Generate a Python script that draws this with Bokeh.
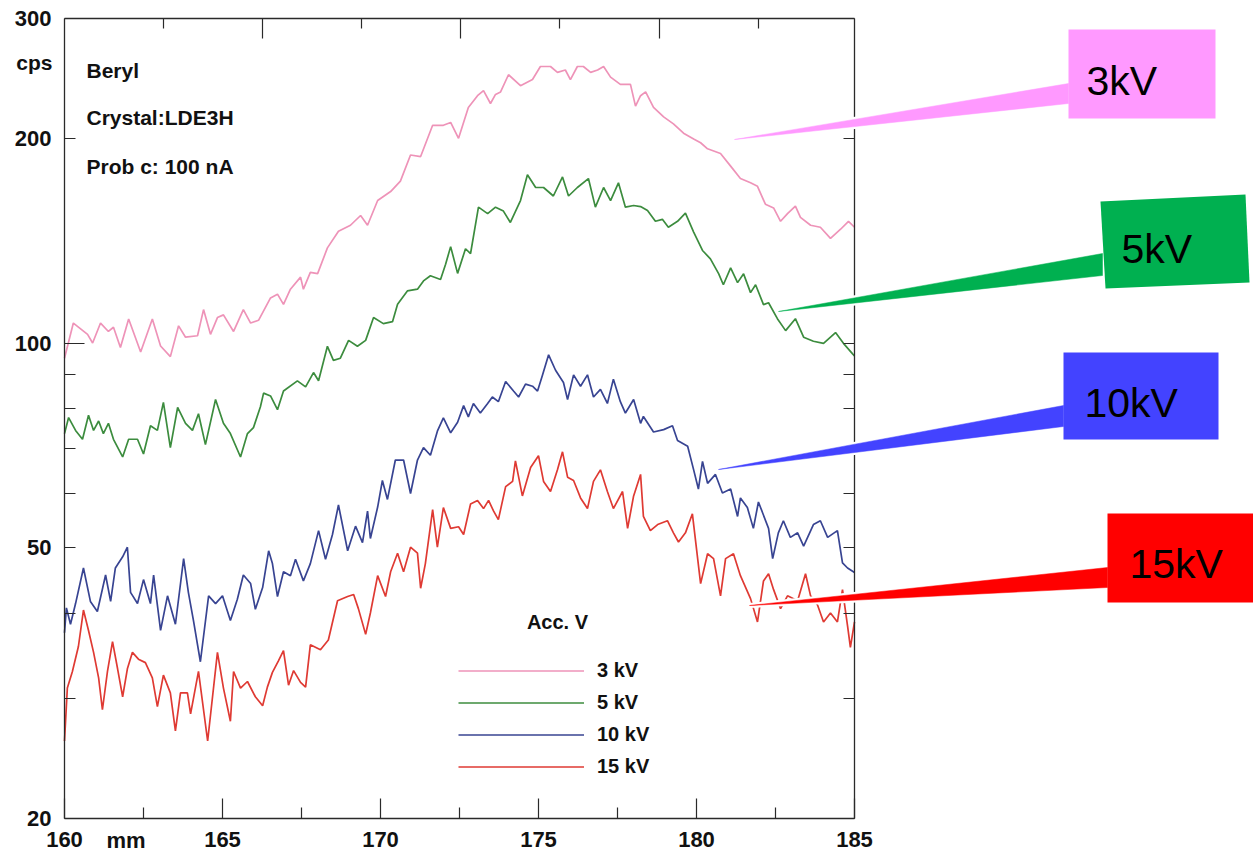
import math
from bokeh.plotting import figure
from bokeh.models import (Range1d, LinearAxis, LogAxis, FixedTicker, Legend, LegendItem,
                          BasicTickFormatter)
from bokeh.core.properties import value
from bokeh.embed import file_html
from bokeh.resources import INLINE

# ---------------- data ----------------
kv3_x = [160.00, 160.28, 160.73, 160.89, 161.14, 161.39, 161.55, 161.77, 162.03, 162.41, 162.78, 163.04,
         163.35, 163.61, 163.83, 164.21, 164.40, 164.62, 164.84, 165.03, 165.35, 165.66, 165.89, 166.14,
         166.52, 166.74, 166.93, 167.15, 167.47, 167.56, 167.78, 168.01, 168.32, 168.67, 169.05, 169.37,
         169.59, 169.91, 170.32, 170.63, 170.95, 171.27, 171.65, 171.99,
         172.22, 172.47, 172.78, 173.07, 173.26, 173.48, 173.64, 173.80, 174.05, 174.43, 174.81, 175.06,
         175.38, 175.60, 175.85, 176.01, 176.23, 176.42, 176.65, 176.87, 177.06, 177.28, 177.59, 177.91,
         178.07, 178.23,
         178.39, 178.64, 178.96, 179.27, 179.59, 179.91, 180.13, 180.35, 180.76, 181.08, 181.39, 181.71,
         181.93, 182.18, 182.44, 182.66, 182.88, 183.13, 183.29, 183.61, 183.92, 184.24, 184.56, 184.81, 185.00]
kv3_y = [95, 107, 103, 100, 107, 104, 105.5, 98.5, 108.5, 97, 108.5, 99,
         95.5, 106, 102, 102.5, 112, 103, 109, 110, 104, 112, 107, 108,
         116.5, 118, 114, 120, 125, 120, 127, 126.5, 138, 146, 149, 154,
         149, 162, 167, 173, 189, 188, 209, 209,
         211, 200, 222, 231, 235, 225, 232, 234, 248, 239, 244, 255,
         255, 250, 252, 244, 255, 255, 250, 252, 255, 246, 240, 240,
         223, 231,
         234, 222, 215, 210, 203.5, 199.5, 197, 193, 190, 182, 174.5, 172,
         170, 160, 158, 151, 155, 159, 153, 149, 148, 142.5, 147, 151, 148]

kv5_x = [160.00, 160.13, 160.35, 160.57, 160.76, 160.92, 161.08, 161.23, 161.39, 161.55, 161.84, 162.03,
         162.31, 162.50, 162.72, 162.94, 163.13, 163.35, 163.58, 163.83, 164.05, 164.24, 164.46, 164.78,
         165.03, 165.25, 165.57, 165.79, 165.98, 166.20,
         166.30, 166.52, 166.74, 166.93, 167.37, 167.63, 167.88, 168.04, 168.32, 168.51, 168.73, 168.99,
         169.27, 169.53, 169.78, 170.09, 170.38, 170.54, 170.85, 171.17, 171.36, 171.58, 171.90, 172.06,
         172.22, 172.44, 172.69, 172.85, 173.10, 173.39, 173.64, 173.89, 174.11, 174.43, 174.65, 174.91,
         175.16, 175.47, 175.76, 175.95, 176.23, 176.58, 176.80, 177.06, 177.28, 177.53, 177.75, 178.01,
         178.23, 178.45, 178.70, 178.92, 179.11, 179.40, 179.65, 179.91, 180.19, 180.44, 180.70, 180.85,
         181.08, 181.30, 181.49, 181.71, 181.87, 182.12, 182.28, 182.56, 182.82, 183.13, 183.39, 183.70,
         184.02, 184.40, 184.65, 184.94, 185.00]
kv5_y = [73.6, 77.7, 74.4, 72.2, 78.3, 74.4, 76.8, 73.6, 76.2, 72.2, 68, 72.2,
         72.2, 68.7, 75.6, 74.4, 81.8, 70.2, 80.4, 76.2, 74.4, 78.7, 70.9, 82.6,
         76.2, 73.6, 68, 73.6, 75.1, 80.6,
         84.4, 83.6, 79.8, 85, 88, 86.2, 90.5, 88, 98.9, 94.3, 95, 100.9,
         98.9, 100.9, 109, 106.8, 107.5, 114, 119.3, 120, 123.4, 125.6, 124, 130.6,
         138.6, 126.6, 137.6, 135.4, 158.4, 155, 158.4, 156.3, 150.4, 162, 176.8, 169.3,
         169.3, 164.5, 175.5, 164.5, 169.3, 174.5, 158.4, 169.3, 162, 172, 158.4, 159.3,
         158.7, 156.6, 151, 152, 148, 151, 155.2, 145.6, 136.8, 133, 126.5, 121.8,
         129, 122.7, 126.4, 118.6, 121.8, 113.9, 114.6, 108.6, 104.3, 108.6, 102, 100.6,
         99.9, 103.6, 99.9, 96.4, 95.7]

kv10_x = [160.00, 160.06, 160.19, 160.35, 160.60, 160.82, 161.04, 161.30, 161.46, 161.61, 161.84, 161.99,
          162.09, 162.31, 162.50, 162.72, 162.82, 163.04, 163.26, 163.51, 163.77, 163.92, 164.08, 164.30,
          164.56, 164.78, 165.00, 165.25, 165.47, 165.66,
          165.89, 166.04, 166.27, 166.46, 166.58, 166.74, 166.93, 167.15, 167.31, 167.56, 167.78, 168.04,
          168.26, 168.48, 168.67, 168.96, 169.21, 169.43, 169.59, 169.68, 169.91, 170.06, 170.22, 170.47,
          170.73, 170.95, 171.17, 171.36, 171.58, 171.80, 171.99,
          172.22, 172.44, 172.63, 172.78, 172.94, 173.16, 173.39, 173.54, 173.73, 173.96, 174.21, 174.37,
          174.59, 174.81, 174.97, 175.13, 175.32, 175.54, 175.79, 175.92, 176.11, 176.33, 176.55, 176.74,
          176.96, 177.18, 177.37, 177.59, 177.75, 178.01,
          178.23, 178.32, 178.64, 178.96, 179.24, 179.40, 179.72, 179.91, 180.06, 180.19, 180.35, 180.60,
          180.82, 181.08, 181.30, 181.39, 181.61, 181.80, 181.96, 182.28, 182.41, 182.59, 182.75, 182.97,
          183.20, 183.39, 183.70, 183.92, 184.15, 184.46, 184.62, 184.78, 185.00]
kv10_y = [37.5, 40.8, 38.6, 41.4, 46.7, 41.7, 40.3, 45.6, 41.7, 46.7, 48.5, 50.1,
          43, 41.4, 44.9, 41.4, 45.6, 37.8, 42.5, 38.6, 48.2, 43, 39.1, 34,
          42.5, 41.4, 42.5, 39.1, 42, 45.6,
          44.3, 40.6, 43.7, 49.5, 47.4, 42.4, 46.1, 45.5, 48.1, 44.7, 47.4, 53,
          48.1, 52.3, 57.8, 49.5, 53.8, 50.9, 56.6, 51.6, 57.4, 62.8, 58.9, 67.3,
          67.3, 60.1, 67.3, 70.2, 68.4, 74.2, 77.6,
          73.8, 76.5, 80.9, 77.9, 81.5, 78.9, 81.5, 83.3, 82, 87.8, 85, 83.3,
          87, 86.4, 85, 89.8, 96.1, 91.2, 87.5, 82.6, 89.8, 86.4, 89.8, 83.3,
          85.5, 81.5, 88.5, 82, 78.9, 82.6,
          76.2, 78, 74, 74.6, 75.6, 71.9, 70.5, 65.1, 61, 67, 62.2, 64.1,
          60.2, 61, 55.6, 59.2, 57.3, 53.4, 58.4, 53.4, 48.2, 52.6, 54.8, 51.8,
          52.6, 50.3, 54.1, 54.8, 51.8, 53, 47.5, 46.7, 46]

kv15_x = [160.00, 160.09, 160.25, 160.44, 160.60, 160.76, 160.92, 161.08, 161.20, 161.36, 161.52, 161.68,
          161.84, 161.99, 162.15, 162.34, 162.56, 162.78, 162.94, 163.13, 163.35, 163.51, 163.67, 163.89,
          163.99, 164.24, 164.53, 164.84, 165.03, 165.25, 165.35, 165.57, 165.79, 166.04,
          166.27, 166.42, 166.58, 166.77, 166.93, 167.09, 167.25, 167.47, 167.63, 167.78, 168.10, 168.35,
          168.64, 168.96, 169.15, 169.30, 169.53, 169.68, 169.91, 170.16, 170.32, 170.54, 170.73, 170.95,
          171.17, 171.27, 171.42, 171.65, 171.80, 171.99,
          172.22, 172.47, 172.63, 172.85, 173.07, 173.26, 173.42, 173.58, 173.73, 173.96, 174.18, 174.27,
          174.49, 174.75, 175.00, 175.16, 175.38, 175.60, 175.76, 175.92, 176.11, 176.33, 176.55, 176.74,
          176.96, 177.18, 177.37, 177.66, 177.82, 178.01, 178.23,
          178.32, 178.54, 178.77, 179.08, 179.27, 179.43, 179.65, 179.87, 180.13, 180.35, 180.54, 180.76,
          180.92, 181.17, 181.39, 181.71, 181.93, 182.12, 182.28, 182.44, 182.66, 182.88, 183.20, 183.45,
          183.61, 183.83, 184.02, 184.24, 184.46, 184.62, 184.78, 184.87, 185.00]
kv15_y = [26, 31.1, 32.9, 35.8, 40.5, 37.8, 35.1, 32.2, 28.9, 32.9, 36.4, 33.2,
          30.2, 33.2, 35.1, 34.3, 33.9, 32.2, 29.2, 32.5, 30.6, 26.9, 30.6, 30.6,
          28.5, 32.9, 26, 35.1, 31.1, 27.8, 32.9, 31.1, 31.8, 30.2,
          29.3, 31.2, 32.8, 34.1, 35.3, 31.4, 33, 31.7, 31.2, 36, 35.4, 36.6,
          41.8, 42.4, 42.7, 40.7, 37.3, 40.1, 45.5, 42.4, 46.1, 49.1, 46.1, 50.1,
          49.1, 43.6, 47.4, 56.9, 50.1, 57.3,
          53.4, 53.7, 52.3, 58, 58.7, 57.1, 58.7, 56.6, 55, 61.5, 62.6, 67.1,
          59.6, 65.6, 68.3, 62.6, 60.5, 65.1, 69.2, 63.5, 62.8, 59.2, 57.1, 62.6,
          65.1, 60.5, 57.1, 60.5, 53.4, 59.6, 64.1,
          55.6, 53, 54.1, 54.8, 52.6, 51, 52.6, 56.1, 44.3, 49, 48.2, 42.5,
          48.2, 49, 45.5, 42.1, 38.9, 44.7, 45.8, 43.4, 40.7, 42.5, 41.8, 45.8,
          42.5, 41.2, 38.9, 40.1, 38.9, 43.4, 38.4, 35.7, 38.9]

series_labels = ["3 kV", "5 kV", "10 kV", "15 kV"]
series_x = [kv3_x, kv5_x, kv10_x, kv15_x]
series_y = [kv3_y, kv5_y, kv10_y, kv15_y]
series_colors = ["#EE93B8", "#3C8C3E", "#384492", "#DF3A33"]

x_major = [160, 165, 170, 175, 180, 185]
x_minor = [162.5, 167.5, 172.5, 177.5, 182.5]
y_major = [20, 50, 100, 200, 300]
y_minor = [30, 40, 60, 70, 80, 90]

info_lines = ["Beryl", "Crystal:LDE3H", "Prob c: 100 nA"]
callout_texts = ["3kV", "5kV", "10kV", "15kV"]
callout_colors = ["#FF99FF", "#00B050", "#4343FF", "#FF0000"]

# ---------------- layout (pixels) ----------------
W, H = 1253, 853
FX0, FX1 = 64, 854      # pixel x of 160 and 185 mm
FY0, FY1 = 18, 818      # pixel y of 300 and 20 cps
XMIN, XMAX = 160, 185
YMIN, YMAX = 20, 300
SX = (FX1 - FX0) / (XMAX - XMIN)
LY = (FY1 - FY0) / (math.log10(YMAX) - math.log10(YMIN))


def X(px):
    return XMIN + (px - FX0) / SX


def Y(py):
    return 10 ** (math.log10(YMAX) - (py - FY0) / LY)


# top (secondary) axis: ticks every 99.2 px, first at x=162.6 px
def T(px):
    return 1 + (px - 162.6) / 99.2


p = figure(width=W, height=H, x_range=Range1d(X(0), X(W)), y_range=Range1d(Y(H), Y(0)),
           y_axis_type="log", x_axis_location=None, y_axis_location=None,
           toolbar_location=None, output_backend="svg",
           min_border=0, min_border_left=0, min_border_right=0, min_border_top=0, min_border_bottom=0)
p.outline_line_color = None
p.background_fill_color = "white"
p.border_fill_color = "white"
p.grid.visible = False
p.xgrid.grid_line_color = None
p.ygrid.grid_line_color = None
p.extra_x_ranges = {"top": Range1d(T(0), T(W))}

AX_COLOR = "#2a2a2a"
FONT = "Liberation Sans"


def style_axis(ax, major_in, minor_in, labels=True):
    ax.axis_line_color = AX_COLOR
    ax.axis_line_width = 1.3
    ax.major_tick_line_color = AX_COLOR
    ax.minor_tick_line_color = AX_COLOR
    ax.major_tick_line_width = 1.2
    ax.minor_tick_line_width = 1.2
    ax.major_tick_in = major_in
    ax.major_tick_out = 0
    ax.minor_tick_in = minor_in
    ax.minor_tick_out = 0
    ax.major_label_text_font = FONT
    ax.major_label_text_font_style = "bold"
    ax.major_label_text_font_size = "22px"
    ax.major_label_text_color = "#111111" if labels else None


ax_b = LinearAxis(fixed_location=YMIN, bounds=(XMIN, XMAX),
                  ticker=FixedTicker(ticks=x_major, minor_ticks=x_minor))
style_axis(ax_b, 20, 11)
ax_b.major_label_standoff = 13
p.add_layout(ax_b, "below")

ax_t = LinearAxis(x_range_name="top", fixed_location=YMAX, bounds=(T(FX0), T(FX1)),
                  ticker=FixedTicker(ticks=[2, 4, 6], minor_ticks=[1, 3, 5, 7]))
style_axis(ax_t, 20, 10, labels=False)
p.add_layout(ax_t, "above")

ax_l = LogAxis(fixed_location=XMIN, bounds=(YMIN, YMAX), formatter=BasicTickFormatter(),
               ticker=FixedTicker(ticks=y_major, minor_ticks=y_minor))
style_axis(ax_l, 11, 11)
ax_l.major_label_standoff = 13
p.add_layout(ax_l, "left")

ax_l2 = LogAxis(fixed_location=XMIN, ticker=FixedTicker(ticks=[100], minor_ticks=[]))
style_axis(ax_l2, 20, 0, labels=False)
ax_l2.axis_line_color = None
p.add_layout(ax_l2, "left")

ax_r = LogAxis(fixed_location=XMAX, bounds=(YMIN, YMAX),
               ticker=FixedTicker(ticks=y_major, minor_ticks=y_minor))
style_axis(ax_r, 11, 11, labels=False)
p.add_layout(ax_r, "right")

# ---------------- curves ----------------
items = []
for lab, xs, ys, col in zip(series_labels, series_x, series_y, series_colors):
    r = p.line(xs, ys, line_color=col, line_width=1.7)
    items.append(LegendItem(label=lab, renderers=[r]))

legend = Legend(items=items, location=(458, 75), orientation="vertical",
                glyph_width=126, glyph_height=23, label_height=23, label_standoff=13,
                spacing=9, padding=0, margin=0, border_line_color=None,
                background_fill_alpha=0,
                label_text_font=FONT, label_text_font_style="bold",
                label_text_font_size="20px", label_text_color="#111111")
p.add_layout(legend)

# ---------------- texts ----------------
p.text(x=[X(86)] * 3, y=[Y(70), Y(117), Y(166)], text=info_lines,
       text_font=value(FONT), text_font_style="bold", text_font_size="21px",
       text_baseline="middle", text_align="left", text_color="#111111")
p.text(x=[X(52)], y=[Y(62)], text=["cps"], text_font=value(FONT), text_font_style="bold",
       text_font_size="21px", text_baseline="middle", text_align="right", text_color="#111111")
p.text(x=[X(106)], y=[Y(840)], text=["mm"], text_font=value(FONT), text_font_style="bold",
       text_font_size="22px", text_baseline="middle", text_align="left", text_color="#111111")
p.text(x=[X(557)], y=[Y(621)], text=["Acc. V"], text_font=value(FONT), text_font_style="bold",
       text_font_size="20px", text_baseline="middle", text_align="center", text_color="#111111")

# ---------------- callouts (pixel geometry) ----------------
wedges_px = [
    [(1068, 83), (1068, 103), (734, 139)],
    [(1102, 253), (1102, 275), (778, 311)],
    [(1063, 405), (1063, 426), (718, 469)],
    [(1107, 567), (1107, 587), (749, 605)],
]
boxes_px = [
    [(1068, 29), (1215, 29), (1215, 118), (1068, 118)],
    [(1100, 201), (1245, 194), (1249, 282), (1105, 288)],
    [(1063, 352), (1218, 352), (1218, 439), (1063, 439)],
    [(1107, 513), (1253, 513), (1253, 602), (1107, 602)],
]
text_px = [(1086, 80), (1121, 248), (1084, 402), (1129, 563)]

wx = [[X(a) for a, b in w] for w in wedges_px]
wy = [[Y(b) for a, b in w] for w in wedges_px]
# white halo, then coloured wedge
p.patches(xs=wx, ys=wy, fill_color="white", line_color="white", line_width=5,
          line_join="round", level="overlay")
p.patches(xs=wx, ys=wy, fill_color=callout_colors, line_color=callout_colors, line_width=0.5,
          level="overlay")
p.patches(xs=[[X(a) for a, b in w] for w in boxes_px], ys=[[Y(b) for a, b in w] for w in boxes_px],
          fill_color=callout_colors, line_color=None, level="overlay")
p.text(x=[X(a) for a, b in text_px], y=[Y(b) for a, b in text_px], text=callout_texts,
       text_font=value(FONT), text_font_size="41px", text_baseline="alphabetic",
       text_align="left", text_color="black", level="overlay")

open("out.html", "w").write(file_html(p, INLINE))
